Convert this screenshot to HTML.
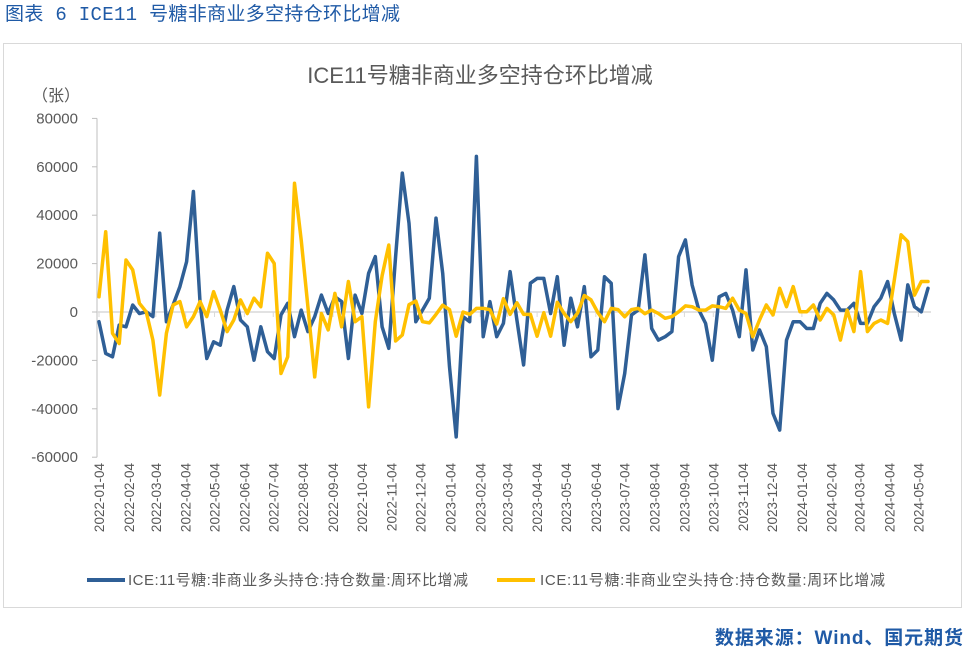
<!DOCTYPE html>
<html><head><meta charset="utf-8">
<style>
body{margin:0;background:#fff;width:967px;height:651px;overflow:hidden;font-family:"Liberation Sans","Noto Sans CJK SC",sans-serif;}
</style></head>
<body>
<svg width="967" height="651" viewBox="0 0 967 651" xmlns="http://www.w3.org/2000/svg">
<text x="5" y="20" font-size="19" fill="#1f5aa6" font-family="Liberation Mono, Noto Sans CJK SC, monospace" textLength="395">图表 6 ICE11 号糖非商业多空持仓环比增减</text>
<rect x="3.5" y="43.5" width="958" height="564" fill="#fff" stroke="#d9d9d9"/>
<text x="480" y="83" font-size="22" fill="#595959" text-anchor="middle">ICE11号糖非商业多空持仓环比增减</text>
<text x="56" y="101" font-size="16" fill="#595959" text-anchor="middle">（张）</text>
<g id="axes"></g>
<g id="series"></g>
<g>
<line x1="87" y1="580" x2="125" y2="580" stroke="#2f5f96" stroke-width="4"/>
<text x="128" y="585" font-size="15" fill="#595959" textLength="340">ICE:11号糖:非商业多头持仓:持仓数量:周环比增减</text>
<line x1="497" y1="580" x2="535" y2="580" stroke="#ffc000" stroke-width="4"/>
<text x="540" y="585" font-size="15" fill="#595959" textLength="345">ICE:11号糖:非商业空头持仓:持仓数量:周环比增减</text>
</g>
<text x="963" y="644" font-size="19" font-weight="bold" fill="#1f5aa6" text-anchor="end" textLength="248">数据来源：Wind、国元期货</text>
</svg>
<script>
const longValues=[-4000,-17100,-18500,-5400,-6100,2900,-600,100,-1900,32600,
-4000,2900,10500,20800,49800,3600,-19200,-12300,-13700,800,
10500,-3300,-6100,-19900,-6100,-16400,-19200,-1200,3600,-10200,
800,-8100,-1900,7000,-600,6300,4300,-19200,7000,-600,
16000,22900,-6100,
-15000,22900,57400,36700,-4000,800,5700,38800,16000,-22600,
-51600,-1900,-4000,64300,-10200,4300,-10200,-4700,16700,-3300,
-21900,11900,13900,13900,-600,14600,-13700,5700,-6100,10500,
-18500,-15700,14600,11900,-39900,-25400,-1200,800,23600,-6800,
-11600,-10200,-8100,22900,29800,11200,800,-4700,-19900,6300,
7700,800,-10200,17400,-15700,-7400,-14300,-41900,-48800,-11600,
-4000,-4000,-6800,-6800,3600,7700,5000,800,800,3600,
-4700,-4700,2200,5700,12600,-600,-11600,11200,2200,100,9800];
const shortValues=[6300,33200,-8800,-13000,21500,17400,3600,100,-11600,-34300,
-8800,2900,4300,-6100,-1900,4300,-1900,8400,800,-8100,
-3300,5000,-600,5700,2200,24300,20100,-25400,-18500,53200,
29800,2200,-26800,-600,-7400,7700,-6100,12600,-4000,-1900,
-39200,-4000,15000,27700,
-12000,-9500,3000,4500,-4000,-4500,-1000,2800,1000,-10000,
0,-1000,1500,1500,1000,-5000,5500,-1000,3800,-1000,
-1000,-10000,-300,-10000,4000,-600,-4000,-500,6800,5000,
-200,-4000,1500,1000,-2000,1000,1500,-700,800,
-600,-2600,-1900,100,2500,2200,800,800,2500,2200,
1500,5700,800,-600,-10200,-3300,2900,-1200,9800,2200,
10500,100,100,2900,-3300,1500,-1200,-11600,800,-8100,
16700,-8100,-4700,-3300,-4700,13200,31900,29100,7000,12600,12600];
const yTicks=[80000,60000,40000,20000,0,-20000,-40000,-60000];
const monthLabels=["2022-01-04","2022-02-04","2022-03-04","2022-04-04","2022-05-04","2022-06-04","2022-07-04","2022-08-04","2022-09-04","2022-10-04","2022-11-04","2022-12-04","2023-01-04","2023-02-04","2023-03-04","2023-04-04","2023-05-04","2023-06-04","2023-07-04","2023-08-04","2023-09-04","2023-10-04","2023-11-04","2023-12-04","2024-01-04","2024-02-04","2024-03-04","2024-04-04","2024-05-04"];
const NS="http://www.w3.org/2000/svg";
const X0=99, WEEK=6.74, Y0=312, PER=48.4/20000;
function xw(i){return X0+i*WEEK;}
function yv(v){return Y0-v*PER;}
function xd(s){const d=(Date.parse(s)-Date.parse("2022-01-04"))/86400000;return X0+d/7*WEEK;}
function mk(tag,attrs,parent){const e=document.createElementNS(NS,tag);for(const k in attrs)e.setAttribute(k,attrs[k]);parent.appendChild(e);return e;}
const axes=document.getElementById('axes');
const yAxis=mk('line',{x1:97,y1:yv(80000),x2:97,y2:yv(-60000),stroke:'#bfbfbf'},axes);


yTicks.forEach(v=>{
 const t=mk('line',{x1:92,y1:yv(v),x2:97,y2:yv(v),stroke:'#bfbfbf'},axes);
 
 
 const l=mk('text',{x:78,y:yv(v)+5,'font-size':15,fill:'#595959','text-anchor':'end'},axes);
 l.textContent=v;
 
 
});
const zl=mk('line',{x1:97,y1:Y0,x2:xw(longValues.length-1)+3,y2:Y0,stroke:'#d9d9d9','stroke-width':1.5},axes);


monthLabels.forEach(s=>{
 const x=xd(s);
 const t=mk('line',{x1:x,y1:Y0,x2:x,y2:Y0+5,stroke:'#d9d9d9'},axes);
 
 
 const l=mk('text',{x:0,y:0,'font-size':13.5,fill:'#595959','text-anchor':'end',transform:`translate(${x+5},463) rotate(-90)`},axes);
 l.textContent=s;
 
 
});
const ser=document.getElementById('series');
function line(vals,color,name){
 const p=mk('polyline',{points:vals.map((v,i)=>xw(i).toFixed(1)+','+yv(v).toFixed(1)).join(' '),fill:'none',stroke:color,'stroke-width':3.5,'stroke-linejoin':'round','stroke-linecap':'round'},ser);
 
 
}
line(longValues,'#2f5f96','long-position-line');
line(shortValues,'#ffc000','short-position-line');
</script>
</body></html>
